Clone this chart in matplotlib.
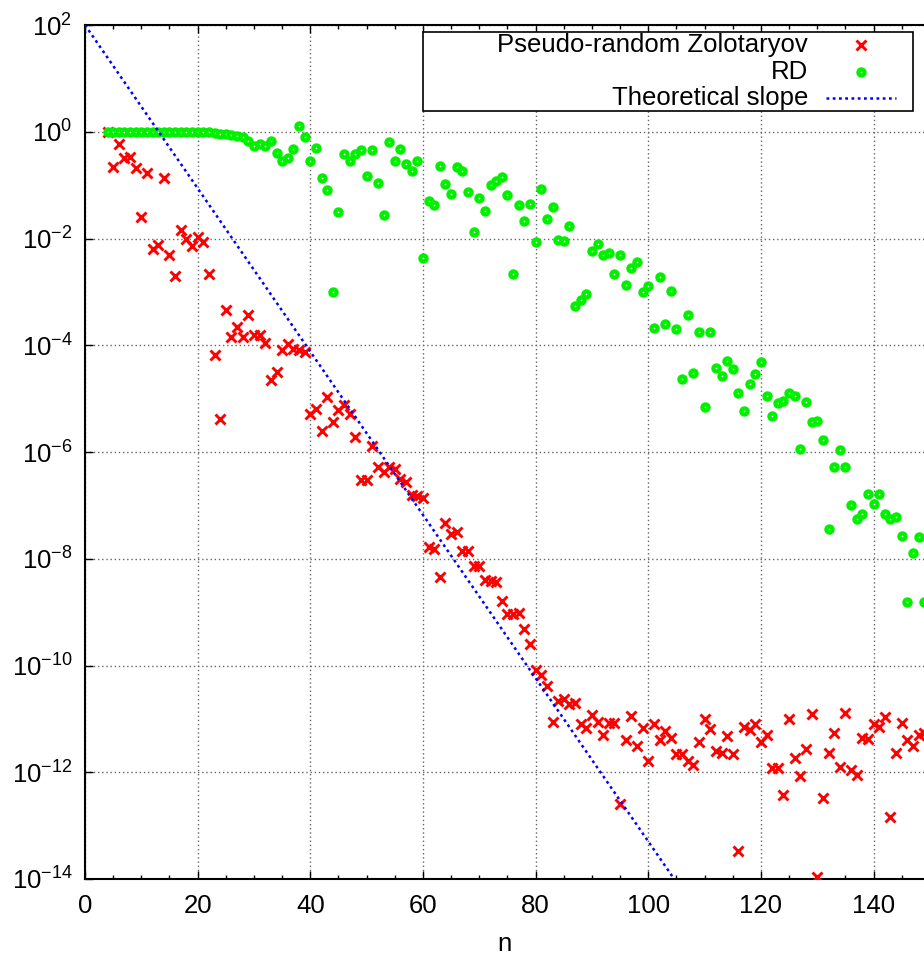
import numpy as np
import matplotlib
matplotlib.use("Agg")
import matplotlib.pyplot as plt
from matplotlib.lines import Line2D
from matplotlib.patches import Rectangle
from matplotlib.ticker import FixedLocator, MultipleLocator, LogFormatterSciNotation

plt.rcParams["font.family"] = ["Liberation Sans", "DejaVu Sans"]
plt.rcParams["mathtext.default"] = "regular"
plt.rcParams["axes.unicode_minus"] = False

# iteration index n (both series sampled at every integer from 4 to 149)
n_vals = np.arange(4, 150)

# log10 of the error
zolo_exp = [
    0.00, -0.66, -0.23, -0.50, -0.48, -0.68, -1.59, -0.77, -2.19, -2.13,
    -0.86, -2.31, -2.71, -1.84, -2.00, -2.14, -1.97, -2.06, -2.66, -4.18,
    -5.38, -3.34, -3.84, -3.66, -3.84, -3.43, -3.81, -3.80, -3.96, -4.66,
    -4.50, -4.09, -3.97, -4.07, -4.09, -4.13, -5.28, -5.20, -5.61, -4.97,
    -5.44, -5.21, -5.12, -5.29, -5.71, -6.53, -6.53, -5.89, -6.29, -6.37,
    -6.29, -6.32, -6.50, -6.57, -6.80, -6.83, -6.87, -7.78, -7.81, -8.34,
    -7.33, -7.54, -7.49, -7.85, -7.85, -8.14, -8.14, -8.40, -8.42, -8.43,
    -8.79, -9.04, -9.04, -9.02, -9.31, -9.60, -10.09, -10.17, -10.38, -11.06,
    -10.66, -10.63, -10.73, -10.71, -11.10, -11.18, -10.93, -11.06, -11.31, -11.08,
    -11.08, -12.60, -11.39, -10.94, -11.50, -11.18, -11.79, -11.10, -11.39, -11.23,
    -11.36, -11.66, -11.66, -11.78, -11.86, -11.44, -11.00, -11.19, -11.60, -11.64,
    -11.33, -11.66, -13.47, -11.16, -11.20, -11.09, -11.44, -11.31, -11.92, -11.92,
    -12.43, -11.00, -11.74, -12.07, -11.56, -10.91, -13.96, -12.48, -11.64, -11.26,
    -11.90, -10.89, -11.96, -12.06, -11.36, -11.38, -11.10, -11.16, -10.96, -12.83,
    -11.63, -11.08, -11.40, -11.50, -11.30, -11.26,
]

rd_exp = [
    0.00, 0.00, 0.00, 0.00, 0.00, 0.00, 0.00, 0.00, 0.00, 0.00,
    0.00, 0.00, 0.00, 0.00, 0.00, 0.00, 0.00, 0.00, -0.01, -0.02,
    -0.04, -0.05, -0.06, -0.08, -0.09, -0.18, -0.26, -0.225, -0.275, -0.18,
    -0.40, -0.54, -0.49, -0.32, 0.11, -0.10, -0.54, -0.30, -0.86, -1.10,
    -3.00, -1.50, -0.41, -0.54, -0.41, -0.35, -0.83, -0.35, -0.96, -1.56,
    -0.19, -0.54, -0.32, -0.61, -0.74, -0.54, -2.36, -1.30, -1.37, -0.64,
    -0.97, -1.16, -0.66, -0.74, -1.12, -1.88, -1.24, -1.48, -0.99, -0.93,
    -0.84, -1.19, -2.66, -1.37, -1.68, -1.36, -2.07, -1.08, -1.64, -1.41,
    -2.03, -2.05, -1.76, -3.27, -3.15, -3.04, -2.24, -2.11, -2.31, -2.27,
    -2.66, -2.30, -2.88, -2.56, -2.44, -3.00, -2.89, -3.68, -2.72, -3.60,
    -2.99, -3.70, -4.64, -3.44, -4.52, -3.76, -5.16, -3.76, -4.43, -4.58,
    -4.29, -4.44, -4.90, -5.24, -4.73, -4.53, -4.31, -4.96, -5.33, -5.08,
    -5.05, -4.89, -4.96, -5.95, -5.06, -5.44, -5.41, -5.78, -7.44, -6.29,
    -5.96, -6.29, -7.00, -7.26, -7.17, -6.78, -6.98, -6.78, -7.17, -7.26,
    -7.22, -7.58, -8.81, -7.89, -7.60, -8.81,
]

# theoretical slope: straight line on the log axis, end points
slope_n = [0, 104.6]
slope_y = [1e2, 1e-14]

labels = ["Pseudo-random Zolotaryov", "RD", "Theoretical slope"]

zolo = 10.0 ** np.array(zolo_exp)
rd = 10.0 ** np.array(rd_exp)

fig = plt.figure(figsize=(9.24, 9.60), dpi=100)
ax = fig.add_axes([85 / 924, 81 / 960, 839 / 924, 854 / 960])

red_kw = dict(ls="none", marker="x", ms=6.6, mew=2.1, color="#ff0000")
green_kw = dict(ls="none", marker="o", ms=4.4, mew=3.1, mec="#00f000", mfc="white")
line_kw = dict(color="#0000ff", lw=1.8, ls=(0, (1.1, 1.4)), dash_capstyle="butt")

ax.plot(n_vals, zolo, zorder=3, **red_kw)
ax.plot(n_vals, rd, zorder=4, **green_kw)
ax.plot(slope_n, slope_y, zorder=5, **line_kw)

ax.set_yscale("log")
ax.set_xlim(0, 148.95)
ax.set_ylim(1e-14, 1e2)

ax.xaxis.set_major_locator(MultipleLocator(20))
ax.xaxis.set_minor_locator(MultipleLocator(5))
ax.yaxis.set_major_locator(FixedLocator([10.0 ** e for e in range(-14, 3, 2)]))
ax.yaxis.set_minor_locator(FixedLocator([]))
ax.yaxis.set_major_formatter(LogFormatterSciNotation())

ax.tick_params(which="both", direction="in", top=True, right=False, width=1.0)
ax.tick_params(which="major", length=5.5, labelsize=18.5)
ax.tick_params(which="minor", length=3)
ax.tick_params(axis="x", which="major", pad=11)
ax.tick_params(axis="y", which="major", pad=9)

ax.grid(True, which="major", color="0.4", lw=1.0, ls=(0, (1, 2)))
ax.set_axisbelow(True)

for side in ("left", "bottom", "top"):
    ax.spines[side].set_linewidth(1.5)
ax.spines["right"].set_visible(False)

ax.set_xlabel("n", fontsize=18.5, labelpad=10)

# gnuplot style key: right aligned labels, samples on the right
bx0, by0 = (423 - 85) / 839, 1 - (111 - 25) / 854
bw, bh = (913 - 423) / 839, (111 - 32) / 854
ax.add_patch(Rectangle((bx0, by0), bw, bh, transform=ax.transAxes, fill=True,
                       facecolor="white", edgecolor="black", lw=1.2, zorder=6))
row_y = [1 - (45 - 25) / 854, 1 - (72 - 25) / 854, 1 - (98 - 25) / 854]
text_x = (808 - 85) / 839
mark_x = (861 - 85) / 839
for lab, yy in zip(labels, row_y):
    ax.text(text_x, yy, lab, transform=ax.transAxes, ha="right", va="center",
            fontsize=18.5, zorder=7)
ax.add_line(Line2D([mark_x], [row_y[0]], transform=ax.transAxes, zorder=7, **red_kw))
ax.add_line(Line2D([mark_x], [row_y[1]], transform=ax.transAxes, zorder=7, **green_kw))
ax.add_line(Line2D([(826 - 85) / 839, (896 - 85) / 839], [row_y[2], row_y[2]],
                   transform=ax.transAxes, zorder=7, **line_kw))

fig.savefig("out.png", dpi=100)
